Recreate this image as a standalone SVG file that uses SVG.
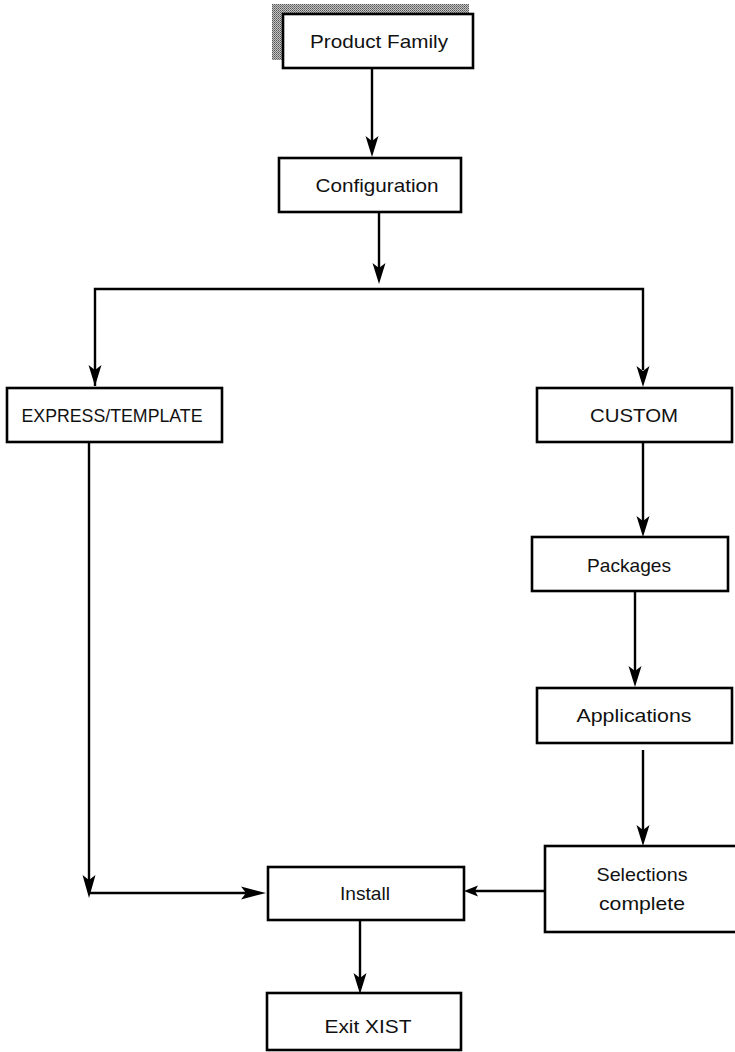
<svg xmlns="http://www.w3.org/2000/svg" width="735" height="1052" viewBox="0 0 735 1052">
<defs>
<pattern id="dots" width="2" height="2" patternUnits="userSpaceOnUse">
<rect width="2" height="2" fill="#c4c4c4"/>
<rect x="0" y="0" width="1" height="1" fill="#555"/>
<rect x="1" y="1" width="1" height="1" fill="#777"/>
</pattern>
<style>
.box{fill:#fff;stroke:#000;stroke-width:2.6}
.lbl{font-family:"Liberation Sans",Arial,sans-serif;font-size:18.5px;fill:#111;text-anchor:middle}
.ln{fill:none;stroke:#000;stroke-width:2.4}
.ah{fill:#000;stroke:none}
</style>
</defs>
<rect width="735" height="1052" fill="#fff"/>

<g id="product-family">
<rect x="272" y="4" width="197" height="56" fill="url(#dots)"/>
<rect class="box" x="283" y="14" width="190" height="54"/>
<text class="lbl" x="379" y="48" textLength="138" lengthAdjust="spacingAndGlyphs">Product Family</text>
</g>
<g id="configuration">
<rect class="box" x="279" y="158" width="182" height="54"/>
<text class="lbl" x="377" y="192" textLength="123" lengthAdjust="spacingAndGlyphs">Configuration</text>
</g>
<g id="express-template">
<rect class="box" x="7" y="388" width="215" height="54"/>
<text class="lbl" x="112" y="422" textLength="181" lengthAdjust="spacingAndGlyphs">EXPRESS/TEMPLATE</text>
</g>
<g id="custom">
<rect class="box" x="537" y="388" width="195" height="54"/>
<text class="lbl" x="634" y="422" textLength="88" lengthAdjust="spacingAndGlyphs">CUSTOM</text>
</g>
<g id="packages">
<rect class="box" x="532" y="537" width="196" height="54"/>
<text class="lbl" x="629" y="572" textLength="84" lengthAdjust="spacingAndGlyphs">Packages</text>
</g>
<g id="applications">
<rect class="box" x="537" y="688" width="195" height="55"/>
<text class="lbl" x="634" y="722" textLength="115" lengthAdjust="spacingAndGlyphs">Applications</text>
</g>
<g id="selections-complete">
<rect class="box" x="545" y="846" width="192" height="86"/>
<text class="lbl" x="642" y="881" textLength="91" lengthAdjust="spacingAndGlyphs">Selections</text>
<text class="lbl" x="642" y="910" textLength="86" lengthAdjust="spacingAndGlyphs">complete</text>
</g>
<g id="install">
<rect class="box" x="268" y="867" width="196" height="53"/>
<text class="lbl" x="365" y="900" textLength="50" lengthAdjust="spacingAndGlyphs">Install</text>
</g>
<g id="exit-xist">
<rect class="box" x="267" y="993" width="194" height="57"/>
<text class="lbl" x="368" y="1033" textLength="87" lengthAdjust="spacingAndGlyphs">Exit XIST</text>
</g>

<g id="connectors">
<path class="ln" d="M372 68 V142"/>
<path class="ah" d="M372 157 L365.5 136 L372 141 L378.5 136 Z"/>
<path class="ln" d="M379 212 V268"/>
<path class="ah" d="M379 284 L372.5 263 L379 268 L385.5 263 Z"/>
<path class="ln" d="M95 386 V289 H643 V370"/>
<path class="ah" d="M95 386 L88.5 365 L95 370 L101.5 365 Z"/>
<path class="ah" d="M643 387 L636.5 366 L643 371 L649.5 366 Z"/>
<path class="ln" d="M643 442 V522"/>
<path class="ah" d="M643 537 L636.5 516 L643 521 L649.5 516 Z"/>
<path class="ln" d="M635 591 V672"/>
<path class="ah" d="M635 687 L628.5 666 L635 671 L641.5 666 Z"/>
<path class="ln" d="M643 750 V830"/>
<path class="ah" d="M643 846 L636.5 825 L643 830 L649.5 825 Z"/>
<path class="ln" d="M545 891 H474"/>
<path class="ah" d="M464 891 L478 885.5 L475 891 L478 896.5 Z"/>
<path class="ln" d="M89 442 V882"/>
<path class="ah" d="M89 898 L82.5 875 L89 880 L95.5 875 Z"/>
<path class="ln" d="M89 893 H250"/>
<path class="ah" d="M266 893 L241 886.5 L246 893 L241 899.5 Z"/>
<path class="ln" d="M360 920 V978"/>
<path class="ah" d="M360 994 L353.5 973 L360 978 L366.5 973 Z"/>
</g>
</svg>
